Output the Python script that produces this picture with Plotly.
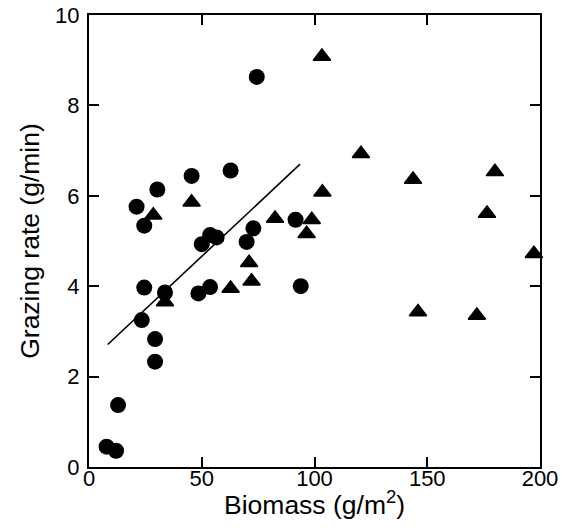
import plotly.graph_objects as go

# Circles (series 1)
circle_x = [7.8, 12.0, 12.9, 23.4, 24.5, 29.3, 29.3, 33.7, 48.5, 53.7,
            74.4, 21.1, 24.5, 30.3, 45.5, 62.8, 50.0, 53.7, 56.6, 69.9,
            72.9, 91.6, 93.9]
circle_y = [0.45, 0.36, 1.37, 3.25, 3.97, 2.83, 2.33, 3.86, 3.84, 3.98,
            8.63, 5.76, 5.34, 6.14, 6.44, 6.56, 4.93, 5.13, 5.08, 4.98,
            5.28, 5.47, 4.00]

# Triangles (series 2)
tri_x = [28.5, 45.5, 33.7, 62.8, 71.0, 72.1, 82.5, 96.5, 98.8, 103.5,
         103.3, 120.6, 143.7, 145.9, 172.0, 176.5, 180.0, 197.3]
tri_y = [5.57, 5.86, 3.65, 3.95, 4.52, 4.11, 5.50, 5.16, 5.47, 6.08,
         9.08, 6.93, 6.36, 3.43, 3.35, 5.61, 6.53, 4.72]

# Regression line endpoints
line_x = [8.3, 93.6]
line_y = [2.71, 6.70]

x_ticks = [0, 50, 100, 150, 200]
y_ticks = [0, 2, 4, 6, 8, 10]

x_title = "Biomass (g/m<sup>2</sup>)"
y_title = "Grazing rate (g/min)"

fig = go.Figure()
fig.add_trace(go.Scatter(x=line_x, y=line_y, mode="lines",
                         line=dict(color="black", width=1.6),
                         showlegend=False, hoverinfo="skip"))
fig.add_trace(go.Scatter(x=circle_x, y=circle_y, mode="markers",
                         marker=dict(symbol="circle", size=16, color="black"),
                         showlegend=False))
fig.add_trace(go.Scatter(x=tri_x, y=tri_y, mode="markers",
                         marker=dict(symbol="triangle-up", size=15, color="black",
                                     line=dict(color="black", width=1.5)),
                         showlegend=False, cliponaxis=False))

font_family = "Liberation Sans, Arial, Helvetica, sans-serif"
axis_common = dict(
    showgrid=False, zeroline=False, automargin=False,
    showline=True, linecolor="black", linewidth=2,
    mirror="ticks", ticks="inside", ticklen=10, tickwidth=1.5, tickcolor="black",
    tickfont=dict(family=font_family, size=22, color="black"),
)

fig.update_layout(
    width=562, height=531,
    margin=dict(l=89, r=22, t=15, b=64),
    paper_bgcolor="white", plot_bgcolor="white",
    xaxis=dict(range=[0, 200], tickvals=x_ticks,
               ticklabelstandoff=-9,
               **axis_common),
    yaxis=dict(range=[0, 10], tickvals=y_ticks,
               title=dict(text=y_title,
                          font=dict(family=font_family, size=26.5, color="black"),
                          standoff=8),
               ticklabelstandoff=3,
               **axis_common),
)
fig.add_annotation(text=x_title, xref="paper", yref="paper", x=0.5, y=0,
                   xanchor="center", yanchor="middle", yshift=-36,
                   showarrow=False,
                   font=dict(family=font_family, size=26.5, color="black"))

fig.write_html("out.html", post_script="document.body.style.margin='0';",
               config={"displayModeBar": False})
